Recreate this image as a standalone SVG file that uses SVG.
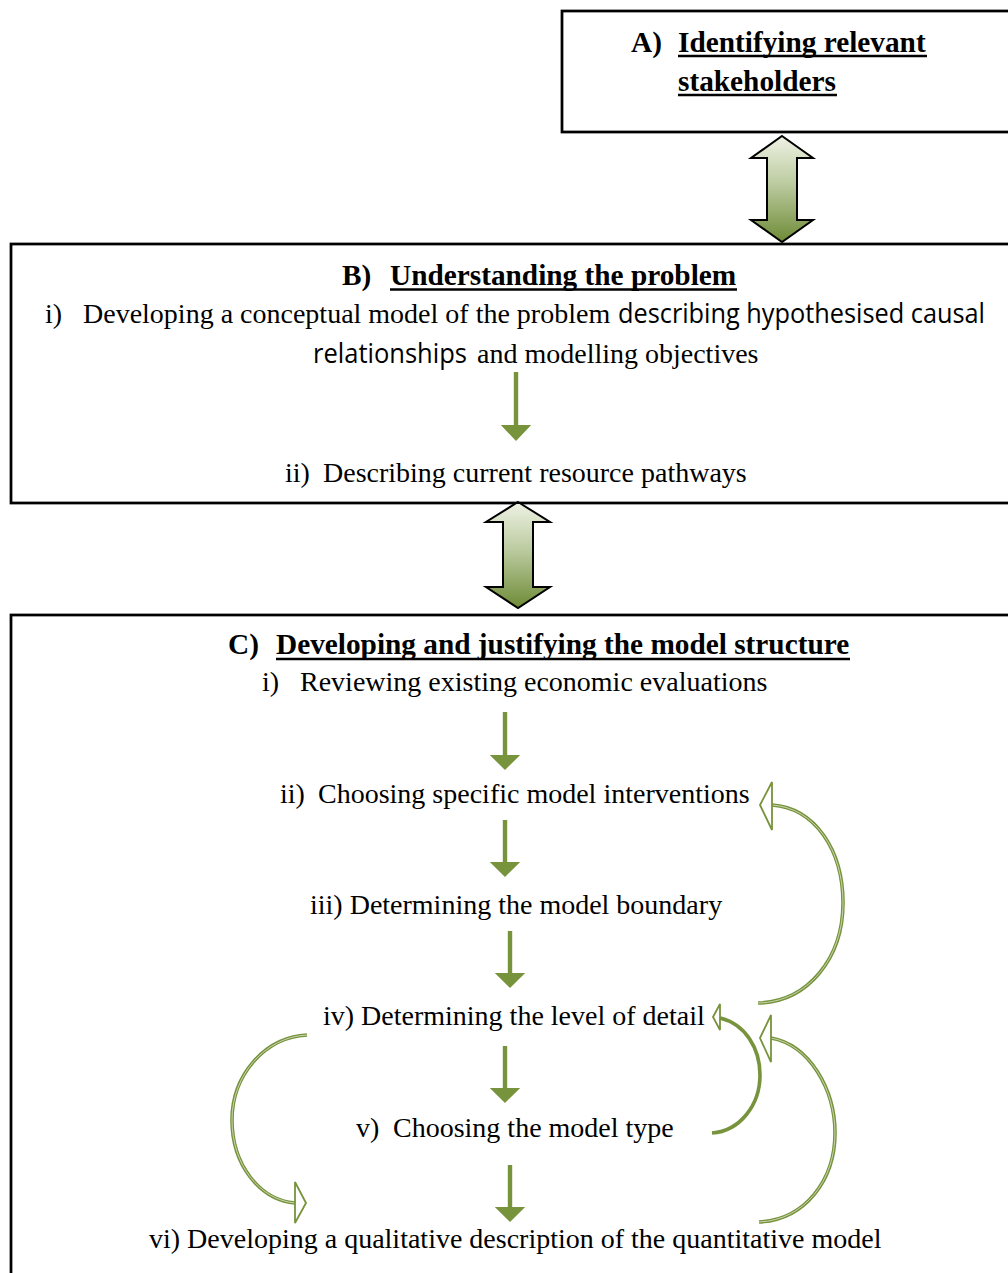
<svg xmlns="http://www.w3.org/2000/svg" width="1008" height="1273" viewBox="0 0 1008 1273">
<style>
.box{fill:#fff;stroke:#000;stroke-width:2.75}
.t{font-family:"Liberation Serif","Times New Roman",serif;font-size:28px;fill:#000}
.h{font-family:"Liberation Serif","Times New Roman",serif;font-size:29.3px;font-weight:bold;fill:#000}
.s{font-family:"Open Sans","Noto Sans",sans-serif;font-size:27px;fill:#000}
.ul{stroke:#000;stroke-width:2.4}
.dbl{fill:url(#grad);stroke:#000;stroke-width:2;stroke-linejoin:miter}
.arr{fill:#77933C}
.cv{fill:none;stroke:#77933C;stroke-width:3.6}
.cvi{fill:none;stroke:#E4EBD5;stroke-width:0.75}
.hd{fill:#fff;stroke:#77933C;stroke-width:1.8;stroke-linejoin:miter}
</style>
<defs>
<linearGradient id="grad" x1="0" y1="0" x2="0" y2="1">
<stop offset="0" stop-color="#EEF2E4"/>
<stop offset="0.45" stop-color="#BCCBA0"/>
<stop offset="1" stop-color="#6E8B36"/>
</linearGradient>
</defs>
<rect width="1008" height="1273" fill="#fff"/>

<g id="nodeA">
<rect class="box" x="562" y="11" width="470" height="121"/>
<text class="h" x="631" y="51.5">A)</text>
<text class="h" x="678" y="51.5">Identifying relevant</text>
<line class="ul" x1="678" y1="56" x2="927" y2="56"/>
<text class="h" x="678" y="90.5">stakeholders</text>
<line class="ul" x1="678" y1="95" x2="837" y2="95"/>
</g>

<g id="nodeB">
<rect class="box" x="11" y="244" width="1020" height="259"/>
<text class="h" x="342" y="284.5">B)</text>
<text class="h" x="390" y="284.5">Understanding the problem</text>
<line class="ul" x1="390" y1="289.5" x2="737" y2="289.5"/>
<g id="nodeB-i">
<text class="t" x="45" y="323">i)</text>
<text class="t" x="83" y="323">Developing a conceptual model of the problem</text>
<text class="s" x="618" y="323" textLength="367" lengthAdjust="spacingAndGlyphs">describing hypothesised causal</text>
<text class="s" x="313" y="363" textLength="154" lengthAdjust="spacingAndGlyphs">relationships</text>
<text class="t" x="477" y="363">and modelling objectives</text>
</g>
<g id="nodeB-ii">
<text class="t" x="285" y="482">ii)</text>
<text class="t" x="323" y="482">Describing current resource pathways</text>
</g>
</g>

<g id="nodeC">
<rect class="box" x="11" y="615" width="1020" height="700"/>
<text class="h" x="228" y="654">C)</text>
<text class="h" x="276" y="654">Developing and justifying the model structure</text>
<line class="ul" x1="276" y1="659" x2="850" y2="659"/>
<g id="nodeC-i">
<text class="t" x="262" y="691">i)</text>
<text class="t" x="300" y="691">Reviewing existing economic evaluations</text>
</g>
<g id="nodeC-ii">
<text class="t" x="280" y="802.5">ii)</text>
<text class="t" x="318" y="802.5">Choosing specific model interventions</text>
</g>
<g id="nodeC-iii">
<text class="t" x="310" y="913.5">iii) Determining the model boundary</text>
</g>
<g id="nodeC-iv">
<text class="t" x="323" y="1024.5">iv) Determining the level of detail</text>
</g>
<g id="nodeC-v">
<text class="t" x="356" y="1136.5">v)</text>
<text class="t" x="393" y="1136.5">Choosing the model type</text>
</g>
<g id="nodeC-vi">
<text class="t" x="149" y="1247.5">vi) Developing a qualitative description of the quantitative model</text>
</g>
</g>

<g id="connectors">
<polygon class="dbl" points="782,136 813,158 797,158 797,220 813,220 782,242 751,220 767,220 767,158 751,158"/>
<polygon class="dbl" points="518,502 550,522 533,522 533,587 550,587 518,608 486,587 503,587 503,522 486,522"/>

<path class="arr" d="M513.8,372 h4.4 v53 h13 l-15.2,16 l-15.2,-16 h13 z"/>
<path class="arr" d="M502.8,712 h4.4 v43 h13 l-15.2,15 l-15.2,-15 h13 z"/>
<path class="arr" d="M502.8,820 h4.4 v42 h13 l-15.2,15 l-15.2,-15 h13 z"/>
<path class="arr" d="M507.8,931 h4.4 v42 h13 l-15.2,15 l-15.2,-15 h13 z"/>
<path class="arr" d="M502.8,1046 h4.4 v42 h13 l-15.2,15 l-15.2,-15 h13 z"/>
<path class="arr" d="M507.8,1165 h4.4 v42 h13 l-15.2,15 l-15.2,-15 h13 z"/>

<path class="cv" d="M772,805 C815,808 843,850 843,903 C843,958 808,1002 758,1003"/>
<path class="cvi" d="M772,805 C815,808 843,850 843,903 C843,958 808,1002 758,1003"/>
<polygon class="hd" points="760,805 772,782 772,830"/>

<path class="cv" d="M720,1018 C745,1024 760,1048 760,1075 C760,1105 740,1131 712,1133"/>
<polygon class="hd" points="713,1017 720,1004 720,1030"/>

<path class="cv" d="M771,1038 C810,1045 835,1090 835,1133 C835,1180 805,1220 759,1222"/>
<path class="cvi" d="M771,1038 C810,1045 835,1090 835,1133 C835,1180 805,1220 759,1222"/>
<polygon class="hd" points="760,1038 771,1015 771,1062"/>

<path class="cv" d="M307,1035 C265,1037 232,1075 232,1120 C232,1165 260,1200 295,1203"/>
<path class="cvi" d="M307,1035 C265,1037 232,1075 232,1120 C232,1165 260,1200 295,1203"/>
<polygon class="hd" points="306,1203 295,1182 295,1223"/>
</g>
</svg>
